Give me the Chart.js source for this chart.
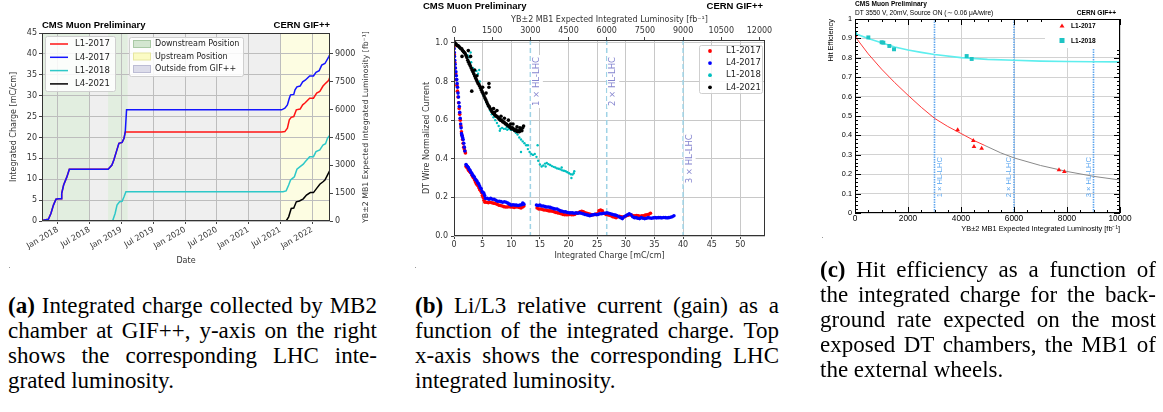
<!DOCTYPE html>
<html lang="en">
<head>
<meta charset="UTF-8">
<title>DT ageing at GIF++</title>
<script src="https://cdn.jsdelivr.net/npm/chart.js"></script>
<style>
  body { margin: 0; background: #fff; width: 1163px; height: 412px; position: relative; overflow: hidden; }
  canvas { position: absolute; }
  .caption { position: absolute; font-family: "Liberation Serif", serif; font-size: 23px; line-height: 25px; color: #000; }
  .ln { display: flex; justify-content: space-between; white-space: nowrap; }
  .ln.last { justify-content: flex-start; gap: 0.25em; }
  .speck { position: absolute; width: 1px; height: 1px; background: #999; }
</style>
</head>
<body>
<canvas id="chartA" width="385" height="272" style="left:0;top:0"></canvas>
<canvas id="chartB" width="390" height="270" style="left:400px;top:0"></canvas>
<canvas id="chartC" width="363" height="242" style="left:800px;top:0"></canvas>
<div class="speck" style="left:9px;top:267px"></div>
<div class="speck" style="left:415px;top:267px"></div>
<div class="speck" style="left:822px;top:237px"></div>

<div class="caption" id="capA" style="left:8px;top:293px;width:369px"></div>
<div class="caption" id="capB" style="left:415px;top:293px;width:364px"></div>
<div class="caption" id="capC" style="left:820px;top:257px;width:336px"></div>

<script>
// ---------- (a) integrated charge vs date (decimal years) ----------
const dateTicks = [2018, 2018.5, 2019, 2019.5, 2020, 2020.5, 2021, 2021.5, 2022];
const lumiTicksA = [0, 1500, 3000, 4500, 6000, 7500, 9000];
const bandStart = [2017.75, 2018.5, 2018.79, 2019.10, 2021.50];
const bandEnd   = [2018.5, 2018.79, 2019.10, 2021.50, 2022.28];
const bandKind  = ['down', 'out', 'down', 'out', 'up'];

const datesL4_2017 = [2017.75, 2017.85, 2017.89, 2017.93, 2017.97, 2018.01, 2018.05, 2018.06, 2018.09, 2018.14, 2018.18,
  2018.79, 2018.85, 2018.88, 2018.92, 2018.96, 2019.01, 2019.04, 2019.06, 2019.08, 2021.52, 2021.57, 2021.61, 2021.64,
  2021.66, 2021.71, 2021.73, 2021.76, 2021.81, 2021.85, 2021.89, 2021.96, 2022.02, 2022.06, 2022.11, 2022.15, 2022.20,
  2022.26, 2022.28];
const chargeL4_2017 = [0.1, 0.4, 1.8, 3.8, 5.2, 5.3, 5.3, 6.6, 8.6, 10.5, 12.4,
  12.4, 13.4, 14.6, 16.6, 18.6, 18.8, 19.8, 21.4, 26.6, 26.6, 27.0, 27.8, 29.4,
  30.2, 30.3, 31.4, 32.1, 32.3, 33.3, 33.7, 34.7, 34.7, 35.6, 36.0, 37.3, 37.7,
  39.3, 39.9];
const datesL1_2017 = [2017.75, 2017.85, 2017.89, 2017.93, 2017.97, 2018.01, 2018.05, 2018.06, 2018.09, 2018.14, 2018.18,
  2018.79, 2018.85, 2018.88, 2018.92, 2018.96, 2019.01, 2019.04, 2019.06, 2019.08, 2021.52, 2021.57, 2021.61, 2021.64,
  2021.67, 2021.71, 2021.75, 2021.81, 2021.85, 2021.89, 2021.96, 2022.02, 2022.07, 2022.12, 2022.17, 2022.20, 2022.26,
  2022.28];
const chargeL1_2017 = [0.1, 0.4, 1.8, 3.8, 5.2, 5.3, 5.3, 6.6, 8.6, 10.5, 12.4,
  12.4, 13.4, 14.6, 16.6, 18.6, 18.8, 19.8, 21.3, 21.3, 21.3, 21.4, 22.2, 24.2,
  24.8, 25.0, 26.6, 26.8, 27.8, 28.3, 29.4, 29.4, 30.6, 31.0, 32.3, 32.8, 33.7,
  34.5];
const datesL1_2018 = [2018.86, 2018.90, 2018.93, 2018.97, 2019.01, 2019.04, 2019.07, 2021.54, 2021.59, 2021.63, 2021.66,
  2021.69, 2021.72, 2021.76, 2021.81, 2021.86, 2021.89, 2021.96, 2022.02, 2022.06, 2022.12, 2022.17, 2022.21, 2022.24,
  2022.28];
const chargeL1_2018 = [0, 1.8, 3.8, 4.6, 4.7, 5.8, 7.0, 7.0, 7.2, 8.6, 9.8,
  10.2, 10.6, 12.4, 13.0, 13.6, 14.2, 15.4, 15.4, 16.6, 17.0, 18.2, 18.5, 19.8,
  20.6];
const datesL4_2021 = [2021.59, 2021.63, 2021.67, 2021.71, 2021.75, 2021.80, 2021.86, 2021.91, 2021.97, 2022.02, 2022.07,
  2022.12, 2022.17, 2022.20, 2022.24, 2022.28];
const chargeL4_2021 = [0, 1.0, 3.0, 3.1, 4.6, 4.8, 5.3, 6.2, 6.8, 6.8, 7.8,
  8.8, 9.4, 9.8, 11.0, 12.2];

// fb^-1 of YB±2 MB1 luminosity per mC/cm of charge
const lumiPerCharge = 225;

// ---------- (b) normalized current vs integrated charge [x, y] ----------
const lumiTicksB = [0, 1500, 3000, 4500, 6000, 7500, 9000, 10500, 12000];
const currL1_2017 = [
  [0.0,0.98],[0.05,0.94],[0.12,0.9],[0.2,0.87],[0.3,0.84],[0.4,0.81],[0.5,0.78],[0.6,0.75],[0.7,0.72],[0.8,0.69],
  [0.9,0.66],[1.0,0.63],[1.1,0.6],[1.2,0.57],[1.3,0.54],[1.4,0.52],[1.5,0.5],[1.6,0.48],[1.7,0.46],[1.8,0.45],[1.9,0.44],[2.0,0.43],
  [2.1,0.36],[2.25,0.355],[2.4,0.35],[2.55,0.34],[2.7,0.335],[2.85,0.33],[3.0,0.325],[3.15,0.315],[3.3,0.305],[3.45,0.3],
  [3.6,0.29],[3.75,0.28],[3.9,0.27],[4.05,0.265],[4.2,0.26],[4.35,0.25],[4.5,0.24],[4.65,0.235],[4.8,0.225],[4.95,0.21],
  [5.1,0.2],[5.25,0.185],
  [5.4,0.175],[5.7,0.175],[6.0,0.172],[6.3,0.175],[6.6,0.172],[6.9,0.17],[7.2,0.168],[7.5,0.165],[7.8,0.16],[8.1,0.158],
  [8.4,0.155],[8.7,0.152],[9.0,0.15],[9.3,0.15],[9.6,0.152],[9.9,0.15],[10.2,0.15],[10.5,0.148],[10.8,0.15],[11.1,0.15],
  [11.4,0.148],[11.7,0.145],[12.0,0.15],[12.2,0.155],
  [14.5,0.145],[14.8,0.14],[15.1,0.14],[15.4,0.138],[15.7,0.135],[16.0,0.135],[16.3,0.132],[16.6,0.13],[16.9,0.13],
  [17.2,0.128],[17.5,0.125],[17.8,0.122],[18.1,0.12],[18.4,0.118],[18.7,0.115],[19.0,0.112],[19.3,0.11],[19.6,0.11],
  [19.9,0.11],[20.2,0.112],[20.5,0.11],[20.8,0.11],[21.1,0.112],[21.4,0.118],[21.7,0.12],[22.0,0.125],[22.3,0.128],
  [22.6,0.125],[22.9,0.12],[23.2,0.118],[23.5,0.115],[23.8,0.112],[24.1,0.11],[24.4,0.11],[24.7,0.112],[25.0,0.115],
  [25.3,0.13],[25.6,0.135],[25.9,0.13],[26.2,0.118],[26.5,0.112],[26.8,0.11],[27.1,0.108],[27.4,0.105],[27.7,0.1],
  [28.0,0.098],[28.3,0.095],[28.6,0.1],[28.9,0.102],[29.2,0.1],[29.5,0.098],[29.8,0.1],[30.1,0.105],[30.4,0.108],
  [30.7,0.11],[31.0,0.108],[31.3,0.105],[31.6,0.104],[31.9,0.106],[32.2,0.105],[32.5,0.102],[32.8,0.104],[33.1,0.105],
  [33.4,0.108],[33.7,0.11],[34.0,0.112],[34.3,0.118]
];
const currL4_2017 = [
  [0.0,0.99],[0.02,0.97],[0.05,0.95],[0.08,0.93],[0.12,0.91],[0.18,0.89],[0.25,0.87],[0.33,0.85],[0.4,0.83],[0.48,0.81],
  [0.55,0.79],[0.62,0.77],[0.7,0.74],[0.78,0.72],[0.86,0.69],[0.93,0.67],[1.0,0.64],[1.08,0.61],[1.16,0.58],[1.24,0.56],
  [1.32,0.53],[1.4,0.52],[1.5,0.51],[1.6,0.5],[1.7,0.48],[1.8,0.46],[1.9,0.44],
  [2.1,0.37],[2.2,0.365],[2.35,0.36],[2.5,0.355],[2.65,0.345],[2.8,0.34],[2.95,0.33],[3.1,0.325],[3.25,0.315],[3.4,0.31],
  [3.55,0.305],[3.7,0.295],[3.85,0.29],[4.0,0.285],[4.15,0.275],[4.3,0.27],[4.45,0.26],[4.6,0.25],[4.75,0.245],
  [4.9,0.23],[5.05,0.225],[5.2,0.222],[5.35,0.21],
  [5.5,0.195],[5.8,0.195],[6.1,0.19],[6.4,0.195],[6.7,0.19],[7.0,0.19],[7.3,0.185],[7.6,0.18],[7.9,0.18],[8.2,0.178],
  [8.5,0.175],[8.8,0.177],[9.1,0.175],[9.4,0.17],[9.7,0.165],[10.0,0.16],[10.3,0.162],[10.6,0.16],[10.9,0.16],
  [11.2,0.158],[11.5,0.16],[11.8,0.162],[12.0,0.17],[12.2,0.165],
  [14.4,0.16],[14.7,0.158],[15.0,0.16],[15.3,0.155],[15.6,0.155],[15.9,0.152],[16.2,0.15],[16.5,0.15],[16.8,0.148],
  [17.1,0.145],[17.4,0.142],[17.7,0.14],[18.0,0.14],[18.3,0.135],[18.6,0.13],[18.9,0.128],[19.2,0.125],[19.5,0.125],
  [19.8,0.122],[20.1,0.12],[20.4,0.12],[20.7,0.12],[21.0,0.118],[21.3,0.12],[21.6,0.118],[21.9,0.12],[22.2,0.118],
  [22.5,0.115],[22.8,0.112],[23.1,0.11],[23.4,0.108],[23.7,0.105],[24.0,0.108],[24.3,0.11],[24.6,0.112],[24.9,0.11],
  [25.2,0.112],[25.5,0.115],[25.8,0.115],[26.1,0.118],[26.4,0.118],[26.7,0.12],[27.0,0.118],[27.3,0.115],[27.6,0.112],
  [27.9,0.11],[28.2,0.108],[28.5,0.105],[28.8,0.1],[29.1,0.095],[29.4,0.09],[29.7,0.1],[30.0,0.105],[30.3,0.11],
  [30.6,0.115],[30.9,0.11],[31.2,0.1],[31.5,0.095],[31.8,0.095],[32.1,0.092],[32.4,0.09],[32.7,0.095],[33.0,0.092],
  [33.3,0.09],[33.6,0.092],[33.9,0.095],[34.2,0.093],[34.5,0.092],[34.8,0.094],[35.1,0.095],[35.4,0.094],[35.7,0.095],
  [36.0,0.095],[36.3,0.094],[36.6,0.096],[36.9,0.095],[37.2,0.094],[37.5,0.095],[37.8,0.097],[38.1,0.1],[38.4,0.105]
];
const currL1_2018 = [
  [0,1.0],[0.3,0.99],[0.6,0.985],[0.9,0.975],[1.2,0.97],[1.5,0.96],[1.8,0.95],[2.1,0.94],[2.4,0.935],[2.7,0.925],
  [3.0,0.9],[3.3,0.87],[3.6,0.86],[3.9,0.855],[4.2,0.84],[4.5,0.8],[4.8,0.76],[5.1,0.73],[5.4,0.71],[5.7,0.69],
  [6.0,0.67],[6.3,0.65],[6.6,0.63],[6.9,0.615],[7.2,0.6],[7.5,0.585],[7.8,0.57],[8.1,0.555],[8.4,0.56],[8.7,0.555],
  [9.0,0.555],[9.3,0.55],[9.6,0.555],[9.9,0.55],[10.2,0.55],[10.5,0.545],[10.8,0.535],[11.1,0.525],[11.4,0.51],
  [11.7,0.5],[12.0,0.49],[12.3,0.48],[12.6,0.47],[12.9,0.45],[13.2,0.435],[13.5,0.425],[13.8,0.42],[14.1,0.425],
  [14.4,0.41],[14.7,0.39],[15.0,0.37],[15.3,0.36],[15.6,0.365],[15.9,0.375],[16.2,0.378],[16.5,0.372],[16.8,0.368],
  [17.1,0.362],[17.4,0.358],[17.7,0.355],[18.0,0.35],[18.3,0.348],[18.6,0.345],[18.9,0.34],[19.2,0.338],[19.5,0.335],
  [19.8,0.33],[20.1,0.325],[20.4,0.32],[20.7,0.318],[20.9,0.325],[21.0,0.335],
  [11.7,0.435],[14.6,0.47],[20.5,0.3],[2.9,0.95],[4.4,0.86],[8.0,0.545],[9.2,0.565],[12.9,0.47],[16.0,0.36],[18.8,0.355]
];
const currL4_2021 = [
  [0,1.0],[0.15,1.0],[0.3,0.995],[0.45,0.99],[0.6,0.985],[0.75,0.985],[0.9,0.98],[1.05,0.975],[1.2,0.97],[1.35,0.97],
  [1.5,0.96],[1.65,0.955],[1.8,0.95],[1.95,0.945],[2.1,0.935],[2.25,0.925],[2.4,0.91],[2.55,0.9],[2.7,0.89],[2.85,0.88],
  [3.0,0.87],[3.15,0.86],[3.3,0.85],[3.45,0.84],[3.6,0.83],[3.75,0.82],[3.9,0.81],[4.05,0.8],[4.2,0.79],[4.35,0.785],
  [4.5,0.775],[4.65,0.765],[4.8,0.755],[4.95,0.745],[5.1,0.735],[5.25,0.725],[5.4,0.715],[5.55,0.705],[5.7,0.695],
  [5.85,0.685],[6.0,0.675],[6.15,0.67],[6.3,0.66],[6.45,0.655],[6.6,0.645],[6.75,0.64],[6.9,0.635],[7.05,0.63],
  [7.2,0.625],[7.35,0.62],[7.5,0.62],[7.65,0.615],[7.8,0.61],[7.95,0.605],[8.1,0.6],[8.25,0.6],[8.4,0.595],[8.55,0.59],
  [8.7,0.59],[8.85,0.585],[9.0,0.58],[9.15,0.58],[9.3,0.575],[9.45,0.57],[9.6,0.57],[9.75,0.565],[9.9,0.56],
  [10.05,0.555],[10.2,0.56],[10.35,0.555],[10.5,0.55],[10.65,0.545],[10.8,0.55],[10.95,0.545],[11.1,0.54],
  [11.25,0.545],[11.4,0.54],[11.55,0.545],[11.7,0.55],[11.85,0.545],[12.0,0.56],[12.15,0.57],
  [1.4,0.93],[2.5,0.96],[2.9,0.93],[3.1,0.75],[4.0,0.83],[5.0,0.77],[6.1,0.79],[6.1,0.77],[6.9,0.66],[7.5,0.65],
  [8.2,0.62],[8.8,0.61],[9.5,0.6],[10.3,0.58],[11.0,0.565],[5.6,0.74],[7.1,0.64],[9.9,0.58],[11.5,0.56],[3.6,0.86]
];

// ---------- (c) hit efficiency vs expected luminosity ----------
const effLumiL1_2017 = [0, 3874, 4465, 4490, 4780, 7698, 7900];
const effL1_2017     = [0.913, 0.428, 0.373, 0.342, 0.333, 0.222, 0.213];
const effLumiL1_2018 = [0, 503, 1006, 1069, 1296, 1472, 4214, 4403];
const effL1_2018     = [0.926, 0.905, 0.880, 0.878, 0.861, 0.844, 0.809, 0.794];
// fitted curves
const fitLumiL1_2017 = [0, 500, 1000, 1500, 2000, 2500, 3000, 3500, 4000, 4500, 4900];
const fitL1_2017     = [0.91, 0.82, 0.742, 0.672, 0.607, 0.545, 0.488, 0.446, 0.41, 0.373, 0.348];
const extLumiL1_2017 = [4900, 5500, 6000, 7000, 8000, 9000, 10000];
const extL1_2017     = [0.348, 0.31, 0.284, 0.245, 0.214, 0.189, 0.17];
const fitLumiL1_2018 = [0, 500, 1000, 1500, 2000, 2500, 3000, 4000, 5000, 6000, 7000, 8000, 9000, 10000];
const fitL1_2018     = [0.925, 0.9, 0.877, 0.856, 0.84, 0.828, 0.817, 0.801, 0.792, 0.787, 0.783, 0.781, 0.78, 0.779];
const hlLumi   = [3000, 6000, 9000];
const hlLabels = ['1 \u00d7 HL-LHC', '2 \u00d7 HL-LHC', '3 \u00d7 HL-LHC'];

// ---------- captions ----------
const captionA = ['(a) Integrated charge collected by MB2', 'chamber at GIF++, y-axis on the right',
  'shows the corresponding LHC inte-', 'grated luminosity.'];
const captionB = ['(b) Li/L3 relative current (gain) as a', 'function of the integrated charge. Top',
  'x-axis shows the corresponding LHC', 'integrated luminosity.'];
const captionC = ['(c) Hit efficiency as a function of', 'the integrated charge for the back-',
  'ground rate expected on the most', 'exposed DT chambers, the MB1 of', 'the external wheels.'];

function caption(id, lines) {
  const box = document.getElementById(id);
  lines.forEach((ln, i) => {
    const div = document.createElement('div');
    div.className = i === lines.length - 1 ? 'ln last' : 'ln';
    ln.split(' ').forEach((w, j) => {
      const s = document.createElement(i === 0 && j === 0 ? 'b' : 'span');
      s.textContent = w;
      div.appendChild(s);
    });
    box.appendChild(div);
  });
}
caption('capA', captionA);
caption('capB', captionB);
caption('capC', captionC);

// ---------- helpers ----------
const MPL = 'DejaVu Sans';
const SANS = 'Liberation Sans';
Chart.defaults.font.family = MPL;

function pts(xs, ys) { return xs.map((x, i) => ({ x: x, y: ys[i] })); }

function txt(ctx, s, x, y, font, color, align, rot) {
  ctx.save();
  ctx.font = font;
  ctx.fillStyle = color;
  ctx.textAlign = align || 'left';
  ctx.textBaseline = 'middle';
  ctx.translate(x, y);
  if (rot) ctx.rotate(rot);
  ctx.fillText(s, 0, 0);
  ctx.restore();
}

function frame(chart, color) {
  const { ctx, chartArea: a } = chart;
  ctx.save();
  ctx.strokeStyle = color;
  ctx.lineWidth = 1;
  ctx.strokeRect(Math.round(a.left) + 0.5, Math.round(a.top) + 0.5,
    Math.round(a.right - a.left) - 1, Math.round(a.bottom - a.top) - 1);
  ctx.restore();
}

function lineSet(label, data, color, order) {
  return { label: label, data: data, borderColor: color, backgroundColor: color, showLine: true,
    pointRadius: 0, borderWidth: 1.5, order: order };
}
function dotSet(label, data, color, r, order) {
  return { label: label, data: data, backgroundColor: color, borderWidth: 0, pointRadius: r,
    pointHoverRadius: r, order: order };
}
function fixedTicks(list) {
  return s => { s.ticks = list.map(v => ({ value: v })); };
}

const mplTick = { size: 8, family: MPL };
const mplTitle = { size: 8, family: MPL };

// ---------- (a) ----------
const bandColor = { down: '#e2eee0', out: '#efefef', up: '#fdfde2' };

new Chart(document.getElementById('chartA'), {
  type: 'scatter',
  data: {
    datasets: [
      lineSet('L1-2017', pts(datesL1_2017, chargeL1_2017), '#ff1414', 3),
      lineSet('L4-2017', pts(datesL4_2017, chargeL4_2017), '#1414ff', 2),
      lineSet('L1-2018', pts(datesL1_2018, chargeL1_2018), '#2ec8c8', 1),
      lineSet('L4-2021', pts(datesL4_2021, chargeL4_2021), '#000000', 0)
    ]
  },
  options: {
    responsive: false, animation: false,
    layout: { padding: { top: 33, right: 0, bottom: 0, left: 0 } },
    plugins: { legend: { display: false }, tooltip: { enabled: false } },
    scales: {
      x: {
        type: 'linear', min: 2017.75, max: 2022.28,
        afterBuildTicks: fixedTicks(dateTicks),
        afterFit: s => { s.height = 51; },
        ticks: { autoSkip: false, minRotation: 30, maxRotation: 30, font: mplTick, color: '#333', padding: 1,
          callback: v => (Math.abs(v % 1) < 0.01 ? 'Jan ' : 'Jul ') + Math.floor(v + 0.001) },
        grid: { color: '#bdbdbd', tickLength: 3, tickColor: '#444' },
        border: { display: false },
        title: { display: true, text: 'Date', font: mplTitle, color: '#333', padding: { top: 0, bottom: 6 } }
      },
      y: {
        type: 'linear', min: 0, max: 45,
        afterFit: s => { s.width = 42; },
        ticks: { stepSize: 5, font: mplTick, color: '#333', padding: 2 },
        grid: { color: '#bdbdbd', tickLength: 3, tickColor: '#444' },
        border: { display: false },
        title: { display: true, text: 'Integrated Charge [mC/cm]', font: mplTitle, color: '#333', padding: { top: 9 } }
      },
      y2: {
        type: 'linear', position: 'right', min: 0, max: 45 * lumiPerCharge,
        afterBuildTicks: fixedTicks(lumiTicksA),
        afterFit: s => { s.width = 55; },
        ticks: { font: mplTick, color: '#333', padding: 2, callback: v => String(v) },
        grid: { drawOnChartArea: false, tickLength: 3, tickColor: '#444' },
        border: { display: false }
      }
    }
  },
  plugins: [{
    id: 'panelA',
    beforeDraw(chart) {
      const { ctx, chartArea: a, scales: { x } } = chart;
      ctx.save();
      ctx.fillStyle = '#efefef';
      ctx.fillRect(a.left, a.top, a.right - a.left, a.bottom - a.top);
      bandStart.forEach((b, i) => {
        const x0 = x.getPixelForValue(b), x1 = x.getPixelForValue(bandEnd[i]);
        ctx.fillStyle = bandColor[bandKind[i]];
        ctx.fillRect(x0, a.top, x1 - x0, a.bottom - a.top);
      });
      ctx.restore();
    },
    afterDraw(chart) {
      const { ctx, chartArea: a } = chart;
      frame(chart, '#333');
      txt(ctx, 'CMS Muon Preliminary', a.left, 25, 'bold 9.5px ' + SANS, '#000', 'left');
      txt(ctx, 'CERN GIF++', a.right, 25, 'bold 9.5px ' + SANS, '#000', 'right');
      txt(ctx, 'YB\u00b12 MB1 Expected Integrated Luminosity [fb\u207b\u00b9]', 366, (a.top + a.bottom) / 2,
        '7.8px ' + MPL, '#333', 'center', -Math.PI / 2);

      // line legend
      ctx.save();
      ctx.fillStyle = 'rgba(255,255,255,0.85)';
      ctx.strokeStyle = '#cfcfcf';
      ctx.beginPath(); ctx.roundRect(a.left + 3.5, 36.5, 70, 55, 2); ctx.fill(); ctx.stroke();
      chart.data.datasets.forEach((d, i) => {
        const y = 44 + i * 13.3;
        ctx.strokeStyle = d.borderColor; ctx.lineWidth = 1.5;
        ctx.beginPath(); ctx.moveTo(a.left + 8, y); ctx.lineTo(a.left + 26, y); ctx.stroke();
        txt(ctx, d.label, a.left + 33, y, '8.5px ' + MPL, '#222', 'left');
      });
      // position legend
      ctx.fillStyle = 'rgba(255,255,255,0.85)';
      ctx.strokeStyle = '#cfcfcf'; ctx.lineWidth = 1;
      ctx.beginPath(); ctx.roundRect(129.5, 37.5, 114, 39, 2); ctx.fill(); ctx.stroke();
      const patches = [['Downstream Position', '#d3e6d0', '#a9c9a5'], ['Upstream Position', '#fbfbc4', '#e6e6a0'],
        ['Outside from GIF++', '#dcdcea', '#bcbcd4']];
      patches.forEach((p, i) => {
        const y = 44 + i * 12.5;
        ctx.fillStyle = p[1]; ctx.strokeStyle = p[2];
        ctx.fillRect(133, y - 3.5, 17, 7); ctx.strokeRect(133.5, y - 3.5, 17, 7);
        txt(ctx, p[0], 155, y, '8px ' + MPL, '#222', 'left');
      });
      ctx.restore();
    }
  }]
});

// ---------- (b) ----------
new Chart(document.getElementById('chartB'), {
  type: 'scatter',
  data: {
    datasets: [
      dotSet('L1-2017', currL1_2017, '#ff0000', 1.8, 3),
      dotSet('L4-2017', currL4_2017, '#0000ff', 1.8, 2),
      dotSet('L1-2018', currL1_2018, '#00bfbf', 1.2, 1),
      dotSet('L4-2021', currL4_2021, '#000000', 1.8, 0)
    ]
  },
  options: {
    responsive: false, animation: false,
    layout: { padding: { top: 0, right: 25, bottom: 0, left: 0 } },
    plugins: { legend: { display: false }, tooltip: { enabled: false } },
    scales: {
      x: {
        type: 'linear', min: 0, max: 54.3,
        afterFit: s => { s.height = 34; },
        ticks: { stepSize: 5, includeBounds: false, font: mplTick, color: '#333', padding: 1 },
        grid: { color: '#c8c8c8', tickLength: 3, tickColor: '#444' },
        border: { display: false },
        title: { display: true, text: 'Integrated Charge [mC/cm]', font: mplTitle, color: '#333', padding: { top: 0, bottom: 9 } }
      },
      x2: {
        type: 'linear', position: 'top', min: 0, max: 54.3 * lumiPerCharge,
        afterBuildTicks: fixedTicks(lumiTicksB),
        afterFit: s => { s.height = 40; },
        ticks: { font: mplTick, color: '#333', padding: 1, callback: v => String(v) },
        grid: { drawOnChartArea: false, tickLength: 3, tickColor: '#444' },
        border: { display: false },
        title: { display: true, text: 'YB\u00b12 MB1 Expected Integrated Luminosity [fb\u207b\u00b9]', font: mplTitle,
          color: '#333', padding: { top: 15, bottom: 0 } }
      },
      y: {
        type: 'linear', min: 0, max: 1.015,
        afterFit: s => { s.width = 54; },
        ticks: { stepSize: 0.2, includeBounds: false, font: mplTick, color: '#333', padding: 3,
          callback: v => v.toFixed(1) },
        grid: { color: '#c8c8c8', tickLength: 3, tickColor: '#444' },
        border: { display: false },
        title: { display: true, text: 'DT Wire Normalized Current', font: mplTitle, color: '#333', padding: { top: 22 } }
      }
    }
  },
  plugins: [{
    id: 'panelB',
    beforeDatasetsDraw(chart) {
      const { ctx, chartArea: a, scales: { x2 } } = chart;
      ctx.save();
      ctx.strokeStyle = '#9fd3e6'; ctx.lineWidth = 1.5; ctx.setLineDash([5, 3]);
      hlLumi.forEach(l => {
        const px = x2.getPixelForValue(l);
        ctx.beginPath(); ctx.moveTo(px, a.top); ctx.lineTo(px, a.bottom); ctx.stroke();
      });
      ctx.restore();
    },
    afterDatasetsDraw(chart) {
      const { ctx, scales: { x2, y } } = chart;
      const labelY = [0.80, 0.80, 0.40];
      hlLumi.forEach((l, i) => {
        const px = x2.getPixelForValue(l) + 6.5, py = y.getPixelForValue(labelY[i]);
        ctx.save();
        ctx.font = '8.5px ' + MPL;
        const w = ctx.measureText(hlLabels[i]).width;
        ctx.translate(px, py); ctx.rotate(-Math.PI / 2);
        ctx.fillStyle = '#fff'; ctx.fillRect(-w / 2 - 2, -6, w + 4, 12);
        ctx.restore();
        txt(ctx, hlLabels[i], px, py, '8.5px ' + MPL, '#8585cf', 'center', -Math.PI / 2);
      });
    },
    afterDraw(chart) {
      const { ctx, chartArea: a } = chart;
      frame(chart, '#333');
      txt(ctx, 'CMS Muon Preliminary', 23, 6, 'bold 9.5px ' + SANS, '#000', 'left');
      txt(ctx, 'CERN GIF++', a.right - 2, 6, 'bold 9.5px ' + SANS, '#000', 'right');
      ctx.save();
      ctx.fillStyle = 'rgba(255,255,255,0.85)'; ctx.strokeStyle = '#cfcfcf'; ctx.lineWidth = 1;
      ctx.beginPath(); ctx.roundRect(a.right - 65.5, 45.5, 63, 48, 2); ctx.fill(); ctx.stroke();
      chart.data.datasets.forEach((d, i) => {
        const yy = 51 + i * 12.1;
        ctx.fillStyle = d.backgroundColor;
        ctx.beginPath(); ctx.arc(a.right - 55, yy, 1.9, 0, Math.PI * 2); ctx.fill();
        txt(ctx, d.label, a.right - 39, yy, '8.5px ' + MPL, '#222', 'left');
      });
      ctx.restore();
    }
  }]
});

// ---------- (c) ----------
const rootTickY = { size: 7.3, family: SANS };
const rootTickX = { size: 8.3, family: SANS };

new Chart(document.getElementById('chartC'), {
  type: 'scatter',
  data: {
    datasets: [
      Object.assign(lineSet('fit L1-2018', pts(fitLumiL1_2018, fitL1_2018), '#5eeeee', 5), { borderWidth: 1.6 }),
      Object.assign(lineSet('fit L1-2017', pts(fitLumiL1_2017, fitL1_2017), '#ff3a3a', 4), { borderWidth: 1 }),
      Object.assign(lineSet('ext L1-2017', pts(extLumiL1_2017, extL1_2017), '#8a8a8a', 3), { borderWidth: 1 }),
      Object.assign(dotSet('L1-2017', pts(effLumiL1_2017, effL1_2017), '#ff1010', 2.7, 1), { pointStyle: 'triangle' }),
      Object.assign(dotSet('L1-2018', pts(effLumiL1_2018, effL1_2018), '#1ec4c4', 2.8, 2), { pointStyle: 'rect' })
    ]
  },
  options: {
    responsive: false, animation: false,
    layout: { padding: { top: 19, right: 43, bottom: 0, left: 0 } },
    plugins: { legend: { display: false }, tooltip: { enabled: false } },
    scales: {
      x: {
        type: 'linear', min: 0, max: 10000,
        afterFit: s => { s.height = 29; },
        ticks: { stepSize: 2000, font: rootTickX, color: '#000', padding: 1, callback: v => String(v) },
        grid: { color: '#d2d2d2', drawTicks: false },
        border: { display: false },
        title: { display: true, align: 'end', text: 'YB\u00b12 MB1 Expected Integrated Luminosity [fb\u207b\u00b9]',
          font: { size: 7.4, family: SANS }, color: '#000', padding: { top: 0, bottom: 9 } }
      },
      y: {
        type: 'linear', min: 0, max: 1,
        afterFit: s => { s.width = 55; },
        ticks: { stepSize: 0.1, font: rootTickY, color: '#000', padding: 3,
          callback: v => Math.abs(v - Math.round(v)) < 1e-6 ? String(Math.round(v)) : v.toFixed(1) },
        grid: { color: '#d2d2d2', drawTicks: false },
        border: { display: false },
        title: { display: true, align: 'end', text: 'Hit Efficiency', font: { size: 7.4, family: SANS }, color: '#000',
          padding: { top: 27 } }
      }
    }
  },
  plugins: [{
    id: 'panelC',
    beforeDatasetsDraw(chart) {
      const { ctx, chartArea: a, scales: { x } } = chart;
      ctx.save();
      ctx.strokeStyle = '#5fa6ee'; ctx.lineWidth = 1.6; ctx.setLineDash([1.5, 1]);
      hlLumi.forEach(l => {
        const px = x.getPixelForValue(l);
        ctx.beginPath(); ctx.moveTo(px, a.top); ctx.lineTo(px, a.bottom); ctx.stroke();
      });
      ctx.restore();
    },
    afterDatasetsDraw(chart) {
      const { ctx, chartArea: a, scales: { x, y } } = chart;
      const side = [1, -1, -1];
      hlLumi.forEach((l, i) => {
        txt(ctx, hlLabels[i], x.getPixelForValue(l) + side[i] * 5, y.getPixelForValue(0.185), '7.6px ' + SANS,
          '#5aa6f0', 'center', -Math.PI / 2);
      });
      // ROOT-style inward ticks on all sides
      ctx.save();
      ctx.strokeStyle = '#000'; ctx.lineWidth = 1;
      ctx.beginPath();
      for (let v = 0; v <= 10000; v += 500) {
        const px = Math.round(x.getPixelForValue(v)) + 0.5, len = v % 2000 === 0 ? 6 : 3;
        ctx.moveTo(px, a.bottom); ctx.lineTo(px, a.bottom - len);
        ctx.moveTo(px, a.top); ctx.lineTo(px, a.top + len);
      }
      for (let k = 0; k <= 50; k++) {
        const py = Math.round(y.getPixelForValue(k * 0.02)) + 0.5, len = k % 5 === 0 ? 6 : 3;
        ctx.moveTo(a.left, py); ctx.lineTo(a.left + len, py);
        ctx.moveTo(a.right, py); ctx.lineTo(a.right - len, py);
      }
      ctx.stroke();
      ctx.restore();
      frame(chart, '#000');

      // legend
      ctx.save();
      ctx.fillStyle = '#fff';
      ctx.fillRect(a.left + 190, a.top + 1, a.right - a.left - 191, 28);
      const tri = chart.data.datasets[3], sq = chart.data.datasets[4];
      ctx.fillStyle = tri.backgroundColor;
      ctx.beginPath(); ctx.moveTo(a.left + 207, a.top + 4.5); ctx.lineTo(a.left + 209.5, a.top + 8.5);
      ctx.lineTo(a.left + 204.5, a.top + 8.5); ctx.closePath(); ctx.fill();
      ctx.fillStyle = sq.backgroundColor;
      ctx.fillRect(a.left + 204.5, a.top + 19, 5, 5);
      ctx.restore();
      txt(ctx, tri.label, a.left + 216, a.top + 7, 'bold 6.6px ' + SANS, '#000', 'left');
      txt(ctx, sq.label, a.left + 216, a.top + 22, 'bold 6.6px ' + SANS, '#000', 'left');
    },
    afterDraw(chart) {
      const { ctx, chartArea: a } = chart;
      txt(ctx, 'CMS Muon Preliminary', a.left, 4, 'bold 6.6px ' + SANS, '#000', 'left');
      txt(ctx, 'DT 3550 V, 20mV, Source ON (\u223c 0.06 \u03bcA/wire)', a.left, 13.5, '6.6px ' + SANS, '#000', 'left');
      txt(ctx, 'CERN GIF++', a.right - 4, 13.5, 'bold 6.6px ' + SANS, '#000', 'right');
    }
  }]
});
</script>
</body>
</html>
